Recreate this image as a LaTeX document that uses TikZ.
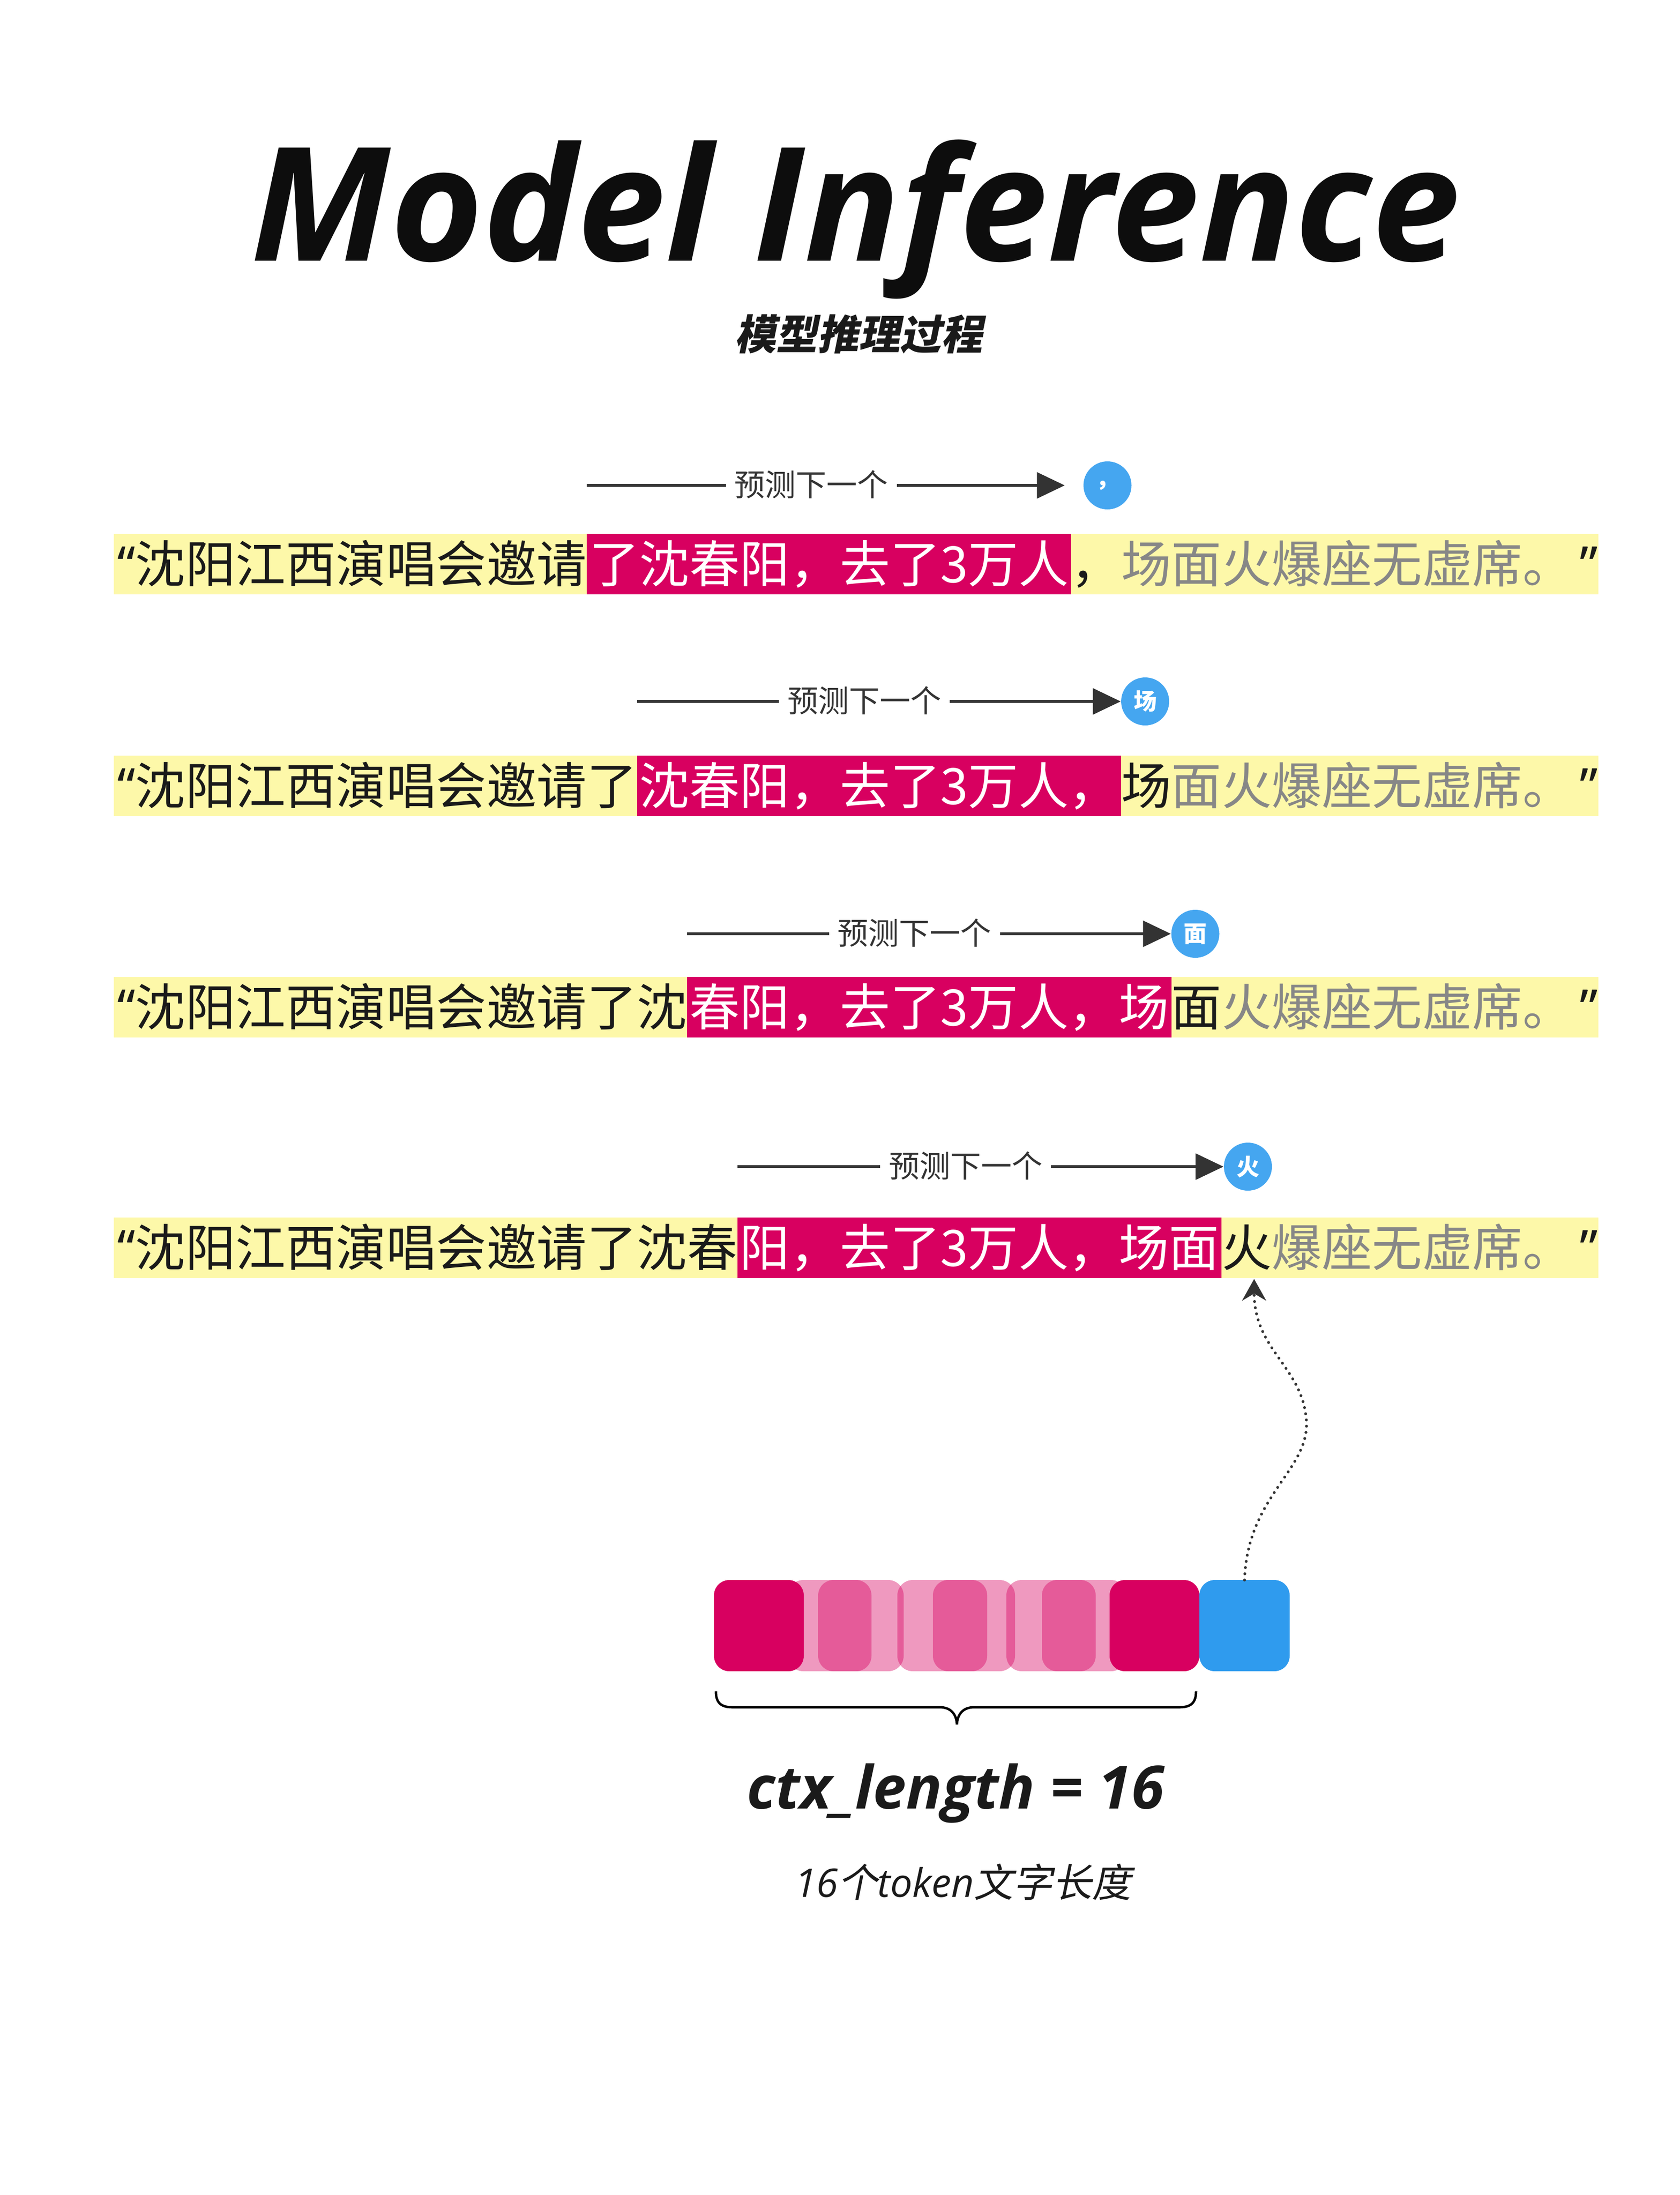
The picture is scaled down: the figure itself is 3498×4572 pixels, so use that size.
\documentclass[tikz,border=0pt]{standalone}
\usepackage{fontspec}
\usetikzlibrary{arrows.meta,backgrounds,calc}
\newfontfamily\cjk{Noto Sans CJK SC}
\newfontfamily\cjksl[FakeSlant=0.2]{Noto Sans CJK SC}
\newfontfamily\os{Open Sans}
\newfontfamily\qf{Noto Sans}
\newcommand\myoq{{\qf “}}
\newcommand\mycq{\hspace{3pt}{\qf ”}}
\definecolor{pk}{HTML}{D80060}
\definecolor{yl}{HTML}{FDF8A9}
\definecolor{tg}{HTML}{878787}
\definecolor{tk}{HTML}{1A1A1A}
\definecolor{ar}{HTML}{333333}
\definecolor{bl}{HTML}{2F9BEE}
\definecolor{cb}{HTML}{45A6F0}
\tikzset{
  bt/.style={font=\cjk\fontsize{20.9pt}{25pt}\selectfont, text=tk, inner sep=0pt, outer sep=0pt, anchor=base west, text height=18pt, text depth=2pt},
  pt/.style={bt, text=white, inner xsep=1pt},
  lbl/.style={font=\cjk\fontsize{12.8pt}{15pt}\selectfont, text=ar, fill=white, inner xsep=3.6pt, inner ysep=0pt, text height=10pt, text depth=1pt},
  circ/.style={circle, fill=cb, minimum size=20pt, inner sep=0pt, text=white, font=\cjk\bfseries\fontsize{9.6pt}{10pt}\selectfont},
  arr/.style={draw=ar, line width=1.1pt, -{Triangle[length=11.6pt,width=10.8pt]}},
  tok/.style={rounded corners=6.4pt, minimum height=38pt, inner sep=0pt, outer sep=0pt},
  dots/.style={draw=ar, line width=1.2pt, line cap=round, dash pattern=on 0pt off 2.6pt, -{Stealth[length=9pt,width=10pt]}},
  brace/.style={draw=black, line width=1pt}
}
\begin{document}
\begin{tikzpicture}[x=0.2pt,y=-0.2pt]
\useasboundingbox (0,0) rectangle (3498,4572);

% title
\node[font=\os\bfseries\itshape\fontsize{66pt}{70pt}\selectfont, text=black!95, anchor=base] (title) at (1782,543) {Model Inference};
\node[font=\cjksl\bfseries\fontsize{17.2pt}{20pt}\selectfont, text=tk] (sub) at (1788,696) {模型推理过程};

% row coordinates
\coordinate (y1) at (0,1011); \coordinate (t1) at (0,1112); \coordinate (b1) at (0,1238);
\coordinate (y2) at (0,1461); \coordinate (t2) at (0,1574); \coordinate (b2) at (0,1700);
\coordinate (y3) at (0,1945); \coordinate (t3) at (0,2035); \coordinate (b3) at (0,2161);
\coordinate (y4) at (0,2430); \coordinate (t4) at (0,2536); \coordinate (b4) at (0,2662);

% row 1
\node[bt] (L1) at (244,1213) {\myoq 沈阳江西演唱会邀请};
\node[pt] (P1) at (L1.base east) {了沈春阳，去了3万人};
\node[bt] (R1) at (P1.base east) {，\textcolor{tg}{场面火爆座无虚席。}\mycq};
% row 2
\node[bt] (L2) at (244,1675) {\myoq 沈阳江西演唱会邀请了};
\node[pt] (P2) at (L2.base east) {沈春阳，去了3万人，};
\node[bt] (R2) at (P2.base east) {场\textcolor{tg}{面火爆座无虚席。}\mycq};
% row 3
\node[bt] (L3) at (244,2136) {\myoq 沈阳江西演唱会邀请了沈};
\node[pt] (P3) at (L3.base east) {春阳，去了3万人，场};
\node[bt] (R3) at (P3.base east) {面\textcolor{tg}{火爆座无虚席。}\mycq};
% row 4
\node[bt] (L4) at (244,2637) {\myoq 沈阳江西演唱会邀请了沈春};
\node[pt] (P4) at (L4.base east) {阳，去了3万人，场面};
\node[bt] (R4) at (P4.base east) {火\textcolor{tg}{爆座无虚席。}\mycq};

\begin{scope}[on background layer]
  \fill[white] (0,0) rectangle (3498,4572);
  \fill[yl] (237,1112) rectangle (3329,1238);
  \fill[yl] (237,1574) rectangle (3329,1700);
  \fill[yl] (237,2035) rectangle (3329,2161);
  \fill[yl] (237,2536) rectangle (3329,2662);
  \fill[pk] (P1.west |- t1) rectangle (P1.east |- b1);
  \fill[pk] (P2.west |- t2) rectangle (P2.east |- b2);
  \fill[pk] (P3.west |- t3) rectangle (P3.east |- b3);
  \fill[pk] (P4.west |- t4) rectangle (P4.east |- b4);
\end{scope}

% predicted tokens and arrows
\node[circ, xshift=15.2pt] (c1) at (P1.east |- y1) {，};
\node[circ, xshift=10pt] (c2) at (P2.east |- y2) {场};
\node[circ, xshift=10pt] (c3) at (P3.east |- y3) {面};
\node[circ, xshift=11pt] (c4) at (P4.east |- y4) {火};
\coordinate (a1) at (P1.west |- y1);
\coordinate (a2) at (P2.west |- y2);
\coordinate (a3) at (P3.west |- y3);
\coordinate (a4) at (P4.west |- y4);
\draw[arr] (a1) -- ([xshift=-7.6pt]c1.west) node[lbl, pos=0.47] {预测下一个};
\draw[arr] (a2) -- (c2.west) node[lbl, pos=0.47] {预测下一个};
\draw[arr] (a3) -- (c3.west) node[lbl, pos=0.47] {预测下一个};
\draw[arr] (a4) -- (c4.west) node[lbl, pos=0.47] {预测下一个};

% context tokens
\node[tok, fill=pk, fill opacity=0.4, minimum width=48.2pt] (g1) at (1761.5,3386) {};
\node[tok, fill=pk, fill opacity=0.4, minimum width=49pt] (g2) at (1991.5,3386) {};
\node[tok, fill=pk, fill opacity=0.4, minimum width=50pt] (g3) at (2221,3386) {};
\node[tok, fill=pk, fill opacity=0.4, minimum width=22.2pt] (m1) at (1759.5,3386) {};
\node[tok, fill=pk, fill opacity=0.4, minimum width=22.6pt] (m2) at (1999.5,3386) {};
\node[tok, fill=pk, fill opacity=0.4, minimum width=22.4pt] (m3) at (2226,3386) {};
\node[tok, fill=pk, minimum width=37.4pt] (k1) at (1580.5,3386) {};
\node[tok, fill=pk, minimum width=37.4pt] (k2) at (2404.5,3386) {};
\node[tok, fill=bl, minimum width=37.6pt] (blue) at (2592,3386) {};

% dotted connector to the predicted character
\coordinate (fire) at (2612,2664);
\draw[dots] (blue.north) .. controls (2598,3110) and (2735,3060) .. (2720,2950) .. controls (2708,2845) and (2612,2810) .. (fire);

% brace
\draw[brace] (1491,3523) .. controls (1491,3546) and (1501,3556) .. (1525,3556) -- (1957,3556) .. controls (1980,3556) and (1992,3570) .. (1993,3592) .. controls (1994,3570) and (2006,3556) .. (2029,3556) -- (2457,3556) .. controls (2481,3556) and (2491,3546) .. (2491,3523);

% captions
\node[font=\os\bfseries\itshape\fontsize{24.8pt}{28pt}\selectfont, text=tk, anchor=base] (ctx) at (1990,3767) {ctx\_length = 16};
\node[font=\fontsize{16.4pt}{20pt}\selectfont, text=tk, anchor=base] (cap) at (2006,3951) {{\os\itshape 16}{\cjksl 个}{\os\itshape token}{\cjksl 文字长度}};
\end{tikzpicture}
\end{document}
